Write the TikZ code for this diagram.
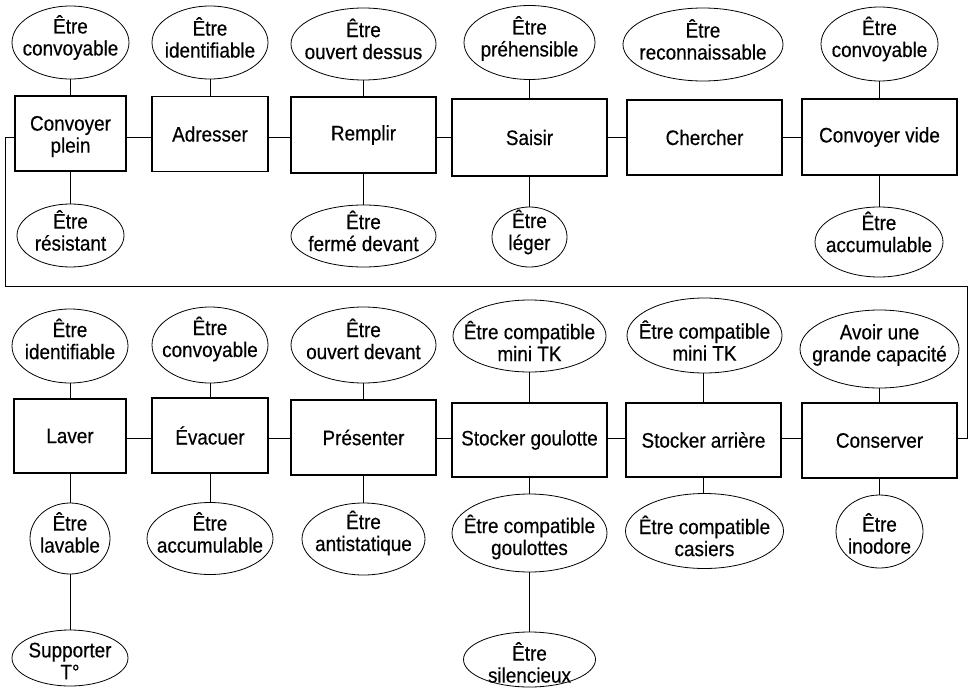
\documentclass[tikz,border=0pt]{standalone}
\usepackage{fontspec}
\setmainfont{Liberation Sans}[FakeStretch=0.9,FakeBold=0.4]
\usetikzlibrary{shapes.geometric}
\begin{document}
\begin{tikzpicture}[x=1pt,y=-1pt,
  every node/.style={font=\fontsize{21}{22}\selectfont, align=center},
  fbox/.style 2 args={draw, line width=1.1pt, rectangle, inner sep=0pt, minimum width=#1, minimum height=#2},
  ell/.style 2 args={draw, line width=0.8pt, ellipse, inner sep=0pt, minimum width=#1, minimum height=#2},
  lbl/.style={align=center, inner sep=0pt},
  link/.style={line width=0.8pt}]
\useasboundingbox (0,0) rectangle (973,687);
\coordinate (r1) at (0,137);
\coordinate (r2) at (0,438);

% ---- top row boxes
\node[fbox={111}{75}, label={[lbl,yshift=-3]center:{Convoyer\\plein}}] (cp) at (70.5,133.5) {};
\node[fbox={116}{75}] (adr) at (210,134) {Adresser};
\node[fbox={145}{76}] (rem) at (363.5,135) {Remplir};
\node[fbox={155}{77}] (sai) at (529.5,137.5) {Saisir};
\node[fbox={155}{75}] (che) at (704.5,137.5) {Chercher};
\node[fbox={155}{76}] (cv)  at (879.5,137) {Convoyer vide};

% ---- top row ellipses above
\node[ell={117}{73}, label={[lbl,yshift=5]center:{Être\\convoyable}}]     (t1) at (70.5,42.5) {};
\node[ell={116}{73}, label={[lbl,yshift=5]center:{Être\\identifiable}}]   (t2) at (210,42.5) {};
\node[ell={145}{72}, label={[lbl,yshift=5]center:{Être\\ouvert dessus}}]  (t3) at (363.5,44) {};
\node[ell={131}{74}, label={[lbl,yshift=4]center:{Être\\préhensible}}]    (t4) at (529.5,42.5) {};
\node[ell={160}{73}, label={[lbl,yshift=5]center:{Être\\reconnaissable}}] (t5) at (703,44.5) {};
\node[ell={117}{74}, label={[lbl,yshift=5]center:{Être\\convoyable}}]     (t6) at (879.5,44) {};

% ---- top row ellipses below
\node[ell={107}{63}, label={[lbl,yshift=5]center:{Être\\résistant}}]    (u1) at (70.5,235.5) {};
\node[ell={145}{62}, label={[lbl,yshift=5]center:{Être\\fermé devant}}] (u3) at (363.5,236) {};
\node[ell={75}{60},  label={[lbl,yshift=5]center:{Être\\léger}}]        (u4) at (529.5,237) {};
\node[ell={128}{70}, label={[lbl,yshift=10]center:{Être\\accumulable}}] (u6) at (879,242) {};

% ---- bottom row boxes
\node[fbox={112}{74}] (lav) at (70,436) {Laver};
\node[fbox={116}{75}] (eva) at (210,435.5) {Évacuer};
\node[fbox={145}{75}] (pre) at (363.5,437.5) {Présenter};
\node[fbox={155}{74}] (sg)  at (529.5,440) {Stocker goulotte};
\node[fbox={155}{74}] (sa)  at (703.5,440) {Stocker arrière};
\node[fbox={155}{75}] (con) at (879.5,440.5) {Conserver};

% ---- bottom row ellipses above
\node[ell={116}{74}, label={[lbl,yshift=7]center:{Être\\identifiable}}]        (a1) at (70,346) {};
\node[ell={116}{76}, label={[lbl,yshift=6]center:{Être\\convoyable}}]          (a2) at (210,345) {};
\node[ell={145}{76}, label={[lbl,yshift=6]center:{Être\\ouvert devant}}]       (a3) at (363.5,345) {};
\node[ell={153}{72}, label={[lbl,yshift=-5]center:{Être compatible\\mini TK}}] (a4) at (529.5,336) {};
\node[ell={155}{75}, label={[lbl,yshift=-5]center:{Être compatible\\mini TK}}] (a5) at (704.5,335.5) {};
\node[ell={159}{78}, label={[lbl,yshift=4]center:{Avoir une\\grande capacité}}] (a6) at (879.5,349) {};

% ---- bottom row ellipses below
\node[ell={80}{71},  label={[lbl,yshift=6]center:{Être\\lavable}}]      (d1) at (70,538.5) {};
\node[ell={126}{72}, label={[lbl,yshift=6]center:{Être\\accumulable}}]  (d2) at (210,538.5) {};
\node[ell={123}{72}, label={[lbl,yshift=6]center:{Être\\antistatique}}] (d3) at (363.5,539) {};
\node[ell={155}{78}, label={[lbl,yshift=-4]center:{Être compatible\\goulottes}}] (d4) at (529.5,533) {};
\node[ell={158}{75}, label={[lbl,yshift=-5]center:{Être compatible\\casiers}}]   (d5) at (704.5,531) {};
\node[ell={87}{73},  label={[lbl,yshift=-2]center:{Être\\inodore}}]     (d6) at (879.5,531.5) {};

% ---- lowest ellipses
\node[ell={116}{56}, label={[lbl,yshift=-3]center:{Supporter\\T°}}]   (s1) at (70,658) {};
\node[ell={132}{55}, label={[lbl,yshift=-3]center:{Être\\silencieux}}] (s4) at (529.5,659.5) {};

% ---- horizontal links, top row
\draw[link] (cp.east |- r1) -- (adr.west |- r1);
\draw[link] (adr.east |- r1) -- (rem.west |- r1);
\draw[link] (rem.east |- r1) -- (sai.west |- r1);
\draw[link] (sai.east |- r1) -- (che.west |- r1);
\draw[link] (che.east |- r1) -- (cv.west |- r1);

% ---- horizontal links, bottom row
\draw[link] (lav.east |- r2) -- (eva.west |- r2);
\draw[link] (eva.east |- r2) -- (pre.west |- r2);
\draw[link] (pre.east |- r2) -- (sg.west |- r2);
\draw[link] (sg.east |- r2) -- (sa.west |- r2);
\draw[link] (sa.east |- r2) -- (con.west |- r2);

% ---- loop
\coordinate (lp1) at (5,286);
\coordinate (lp2) at (967,286);
\draw[link] (cp.west |- r1) -| (lp1) -- (lp2) |- (con.east |- r2);

% ---- vertical links, top row
\draw[link] (cp.north) -- (cp.north |- t1.south);
\draw[link] (adr.north) -- (adr.north |- t2.south);
\draw[link] (rem.north) -- (rem.north |- t3.south);
\draw[link] (sai.north) -- (sai.north |- t4.south);
\draw[link] (cv.north) -- (cv.north |- t6.south);
\draw[link] (cp.south) -- (cp.south |- u1.north);
\draw[link] (rem.south) -- (rem.south |- u3.north);
\draw[link] (sai.south) -- (sai.south |- u4.north);
\draw[link] (cv.south) -- (cv.south |- u6.north);

% ---- vertical links, bottom row
\draw[link] (lav.north) -- (lav.north |- a1.south);
\draw[link] (eva.north) -- (eva.north |- a2.south);
\draw[link] (pre.north) -- (pre.north |- a3.south);
\draw[link] (sg.north) -- (sg.north |- a4.south);
\draw[link] (sa.north) -- (sa.north |- a5.south);
\draw[link] (con.north) -- (con.north |- a6.south);
\draw[link] (lav.south) -- (lav.south |- d1.north);
\draw[link] (eva.south) -- (eva.south |- d2.north);
\draw[link] (pre.south) -- (pre.south |- d3.north);
\draw[link] (sg.south) -- (sg.south |- d4.north);
\draw[link] (sa.south) -- (sa.south |- d5.north);
\draw[link] (con.south) -- (con.south |- d6.north);
\draw[link] (d1.south) -- (d1.south |- s1.north);
\draw[link] (d4.south) -- (d4.south |- s4.north);
\end{tikzpicture}
\end{document}
